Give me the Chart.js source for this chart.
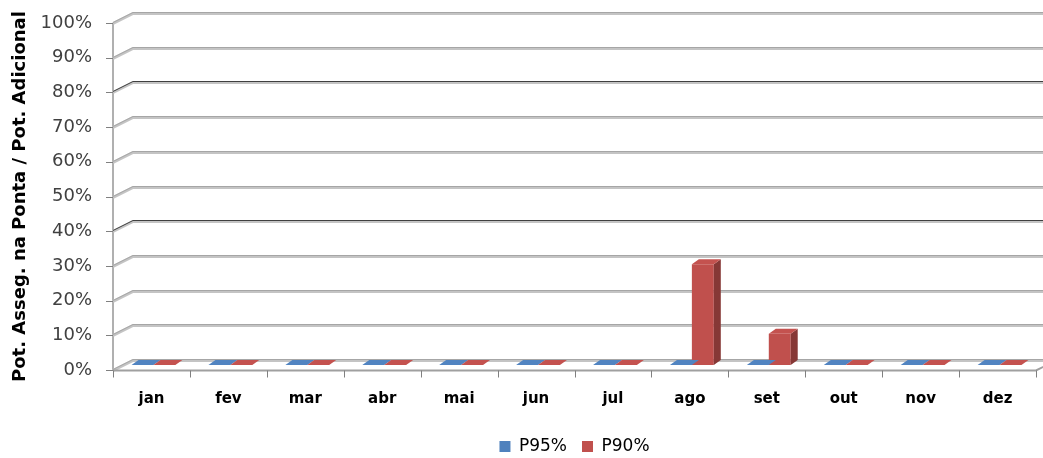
<!DOCTYPE html>
<html>
<head>
<meta charset="utf-8">
<script src="https://cdn.jsdelivr.net/npm/chart.js@4.4.0/dist/chart.umd.min.js"></script>
<style>
  html, body { margin: 0; padding: 0; background: #fff; }
  #wrap { width: 1043px; height: 458px; }
</style>
</head>
<body>
<div id="wrap"><canvas id="chart" width="1043" height="458"></canvas></div>
<script>
const months = ['jan', 'fev', 'mar', 'abr', 'mai', 'jun', 'jul', 'ago', 'set', 'out', 'nov', 'dez'];
const p95 = [0, 0, 0, 0, 0, 0, 0, 0, 0, 0, 0, 0];
const p90 = [0, 0, 0, 0, 0, 0, 0, 29, 9, 0, 0, 0];
const yTicks = [0, 10, 20, 30, 40, 50, 60, 70, 80, 90, 100];

// fake 3D look of the old spreadsheet chart
const wall = { dx: 20, dy: -10 };
const barDepth = { dx: 7, dy: -5 };
const barShift = { x: 2, y: -5 };

function shade(hex, f) {
    const n = parseInt(hex.slice(1), 16);
    const r = Math.round(((n >> 16) & 255) * f);
    const g = Math.round(((n >> 8) & 255) * f);
    const b = Math.round((n & 255) * f);
    return `rgb(${Math.min(r, 255)},${Math.min(g, 255)},${Math.min(b, 255)})`;
}

const threeD = {
    id: 'threeD',
    beforeDatasetsDraw(chart) {
        const { ctx, chartArea: a, scales: { x, y } } = chart;
        ctx.save();
        ctx.strokeStyle = '#b0b0b0';
        ctx.lineWidth = 2;
        ctx.beginPath();
        ctx.moveTo(a.left, a.top);
        ctx.lineTo(a.left, a.bottom);
        ctx.stroke();
        // gridlines on the back wall + side wall diagonals
        yTicks.forEach(v => {
            const py = Math.round(y.getPixelForValue(v)) + 0.5;
            const dark = (v === 40 || v === 80);
            ctx.lineWidth = 3;
            ctx.strokeStyle = '#c4c4c4';
            ctx.beginPath();
            ctx.moveTo(a.left, py);
            ctx.lineTo(a.left + wall.dx, py + wall.dy);
            ctx.lineTo(chart.width, py + wall.dy);
            ctx.stroke();
            ctx.lineWidth = 1;
            ctx.strokeStyle = dark ? '#404040' : '#a6a6a6';
            ctx.beginPath();
            ctx.moveTo(a.left, py - 1);
            ctx.lineTo(a.left + wall.dx, py + wall.dy - 1);
            ctx.lineTo(chart.width, py + wall.dy - 1);
            ctx.stroke();
            ctx.strokeStyle = '#808080';
            ctx.beginPath();
            ctx.moveTo(a.left - 7, py);
            ctx.lineTo(a.left, py);
            ctx.stroke();
        });
        // front floor edge and category ticks
        const by = Math.round(y.getPixelForValue(0)) + 0.5;
        ctx.strokeStyle = '#a0a0a0';
        ctx.lineWidth = 2;
        ctx.beginPath();
        ctx.moveTo(a.left, by);
        ctx.lineTo(a.right, by);
        ctx.lineTo(a.right + wall.dx, by + wall.dy);
        ctx.stroke();
        ctx.lineWidth = 1;
        ctx.strokeStyle = '#808080';
        for (let i = 0; i <= months.length; i++) {
            const px = Math.round(x.getPixelForValue(i - 0.5)) + 0.5;
            ctx.beginPath();
            ctx.moveTo(px, by);
            ctx.lineTo(px, by + 7);
            ctx.stroke();
        }
        ctx.restore();
        ctx.save();
        ctx.translate(barShift.x, barShift.y);
    },
    afterDatasetsDraw(chart) {
        const { ctx } = chart;
        chart.data.datasets.forEach((ds, di) => {
            const meta = chart.getDatasetMeta(di);
            meta.data.forEach(bar => {
                const l = bar.x - bar.width / 2, r = bar.x + bar.width / 2;
                const t = bar.y, b = bar.base;
                ctx.fillStyle = shade(ds.backgroundColor, 0.7);
                ctx.beginPath();
                ctx.moveTo(r, t);
                ctx.lineTo(r + barDepth.dx, t + barDepth.dy);
                ctx.lineTo(r + barDepth.dx, b + barDepth.dy);
                ctx.lineTo(r, b);
                ctx.closePath();
                ctx.fill();
                ctx.fillStyle = shade(ds.backgroundColor, 1.02);
                ctx.beginPath();
                ctx.moveTo(l, t);
                ctx.lineTo(l + barDepth.dx, t + barDepth.dy);
                ctx.lineTo(r + barDepth.dx, t + barDepth.dy);
                ctx.lineTo(r, t);
                ctx.closePath();
                ctx.fill();
            });
        });
        ctx.restore();
    }
};

new Chart(document.getElementById('chart'), {
    type: 'bar',
    data: {
        labels: months,
        datasets: [
            { label: 'P95%', data: p95, backgroundColor: '#4F81BD', categoryPercentage: 0.57, barPercentage: 1.0 },
            { label: 'P90%', data: p90, backgroundColor: '#C0504D', categoryPercentage: 0.57, barPercentage: 1.0 }
        ]
    },
    options: {
        responsive: false,
        animation: false,
        layout: { padding: { top: 23, right: 7, left: 0, bottom: -7 } },
        scales: {
            y: {
                min: 0,
                max: 100,
                afterBuildTicks: axis => { axis.ticks = yTicks.map(v => ({ value: v })); },
                afterFit: axis => {
                    axis.width = 113;
                    axis.paddingTop = 0;
                    axis.paddingBottom = 0;
                },
                grid: { display: false, drawTicks: false },
                border: { display: false },
                ticks: {
                    padding: 21,
                    color: '#404040',
                    font: { family: 'DejaVu Sans', size: 18 },
                    callback: v => v + '%'
                },
                title: {
                    display: true,
                    text: 'Pot. Asseg. na Ponta / Pot. Adicional',
                    color: '#000',
                    font: { family: 'DejaVu Sans', size: 18, weight: 'bold' },
                    padding: { top: 10, bottom: 0 }
                }
            },
            x: {
                afterFit: axis => { axis.height = 53; },
                grid: { display: false, drawTicks: false },
                border: { display: false },
                ticks: {
                    padding: 20,
                    color: '#000',
                    font: { family: 'DejaVu Sans', size: 15, weight: 'bold' }
                }
            }
        },
        plugins: {
            legend: {
                position: 'bottom',
                fullSize: false,
                labels: {
                    boxWidth: 11,
                    boxHeight: 11,
                    padding: 15,
                    color: '#000',
                    font: { family: 'DejaVu Sans', size: 17 }
                }
            },
            tooltip: { enabled: false }
        }
    },
    plugins: [threeD]
});
</script>
</body>
</html>
